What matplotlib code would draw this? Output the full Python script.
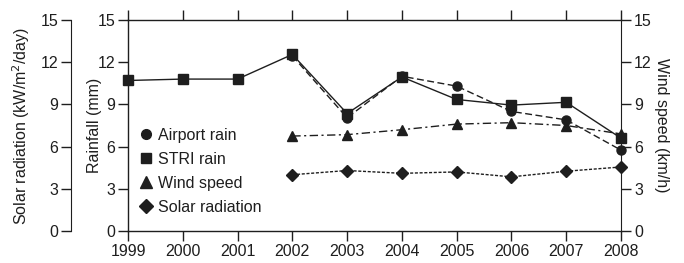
import matplotlib
matplotlib.use("Agg")
import matplotlib.pyplot as plt
from matplotlib.lines import Line2D

years = [1999, 2000, 2001, 2002, 2003, 2004, 2005, 2006, 2007, 2008]
stri_rain = [10.7, 10.8, 10.8, 12.55, 8.35, 10.95, 9.35, 8.95, 9.15, 6.6]
airport_years = [2002, 2003, 2004, 2005, 2006, 2007, 2008]
airport_rain = [12.45, 8.05, 11.0, 10.3, 8.5, 7.9, 5.75]
wind_years = [2002, 2003, 2004, 2005, 2006, 2007, 2008]
wind_speed = [6.75, 6.85, 7.2, 7.6, 7.7, 7.5, 6.9]
solar_years = [2002, 2003, 2004, 2005, 2006, 2007, 2008]
solar_rad = [4.0, 4.3, 4.1, 4.2, 3.85, 4.25, 4.55]
yticks = [0, 3, 6, 9, 12, 15]

plt.rcParams['font.family'] = ['Liberation Sans', 'DejaVu Sans']
plt.rcParams['font.size'] = 11.5
C = '#1e1e1e'
FS = 11.5

fig = plt.figure(figsize=(6.84, 2.63), dpi=100)
ax = fig.add_axes([128/684, 1-231/263, (621-128)/684, (231-20)/263])
ax2 = ax.twinx()
ax3 = ax.twinx()

lw = 1.0
ax.plot(years, stri_rain, color=C, lw=lw, ls='-', marker='s', ms=6.5, clip_on=False, zorder=4)
ax.plot(airport_years, airport_rain, color=C, lw=lw, ls=(0, (5, 2.5)), marker='o', ms=6.5, clip_on=False, zorder=3)
ax2.plot(wind_years, wind_speed, color=C, lw=lw, ls=(0, (6, 2.5, 1.5, 2.5)), marker='^', ms=7, clip_on=False)
ax3.plot(solar_years, solar_rad, color=C, lw=lw, ls=(0, (2.2, 1.2)), marker='D', ms=6, clip_on=False)

for a in (ax, ax2, ax3):
    a.set_ylim(0, 15)
    a.set_yticks(yticks)
    a.set_xlim(1999, 2008)
    a.patch.set_visible(False)

ax.set_xticks(years)
ax.tick_params(axis='x', which='both', top=True, bottom=True, direction='out',
               length=7.5, width=1, pad=1.5, colors=C, labelsize=FS)
ax.tick_params(axis='y', direction='out', length=7.5, width=1, pad=1.5, colors=C, labelsize=FS)
ax2.tick_params(axis='y', direction='out', length=7.5, width=1, pad=2, colors=C, labelsize=FS)

for s in ax.spines.values():
    s.set_color(C)
    s.set_linewidth(1)
ax.spines['right'].set_visible(False)
for k in ('left', 'top', 'bottom'):
    ax2.spines[k].set_visible(False)
ax2.spines['right'].set_color(C)

# outer solar radiation axis
for k in ('right', 'top', 'bottom'):
    ax3.spines[k].set_visible(False)
ax3.spines['left'].set_visible(True)
ax3.spines['left'].set_position(('outward', 41))
ax3.spines['left'].set_color(C)
ax3.yaxis.set_ticks_position('left')
ax3.yaxis.set_label_position('left')
ax3.tick_params(axis='y', direction='out', length=7.5, width=1, pad=1.5, colors=C, labelsize=FS)

ax.set_ylabel('Rainfall (mm)', fontsize=FS, color=C)
ax.yaxis.set_label_coords(-0.053, 0.5)
ax3.set_ylabel('Solar radiation (kW/m$^2$/day)', fontsize=FS, color=C)
ax3.yaxis.set_label_coords(-0.195, 0.5)
ax2.set_ylabel('Wind speed (km/h)', fontsize=FS, color=C, rotation=270, va='bottom')
ax2.yaxis.set_label_coords(1.066, 0.5)

handles = [
    Line2D([], [], color=C, ls='none', marker='o', ms=7),
    Line2D([], [], color=C, ls='none', marker='s', ms=7),
    Line2D([], [], color=C, ls='none', marker='^', ms=8),
    Line2D([], [], color=C, ls='none', marker='D', ms=7),
]
labels = ['Airport rain', 'STRI rain', 'Wind speed', 'Solar radiation']
leg = ax.legend(handles, labels, loc='upper left', bbox_to_anchor=(0.013, 0.505),
                frameon=False, fontsize=FS, handlelength=1.0, handletextpad=0.3,
                labelspacing=0.57, borderpad=0.2, borderaxespad=0)
for t in leg.get_texts():
    t.set_color(C)

fig.savefig('out.png', dpi=100)
